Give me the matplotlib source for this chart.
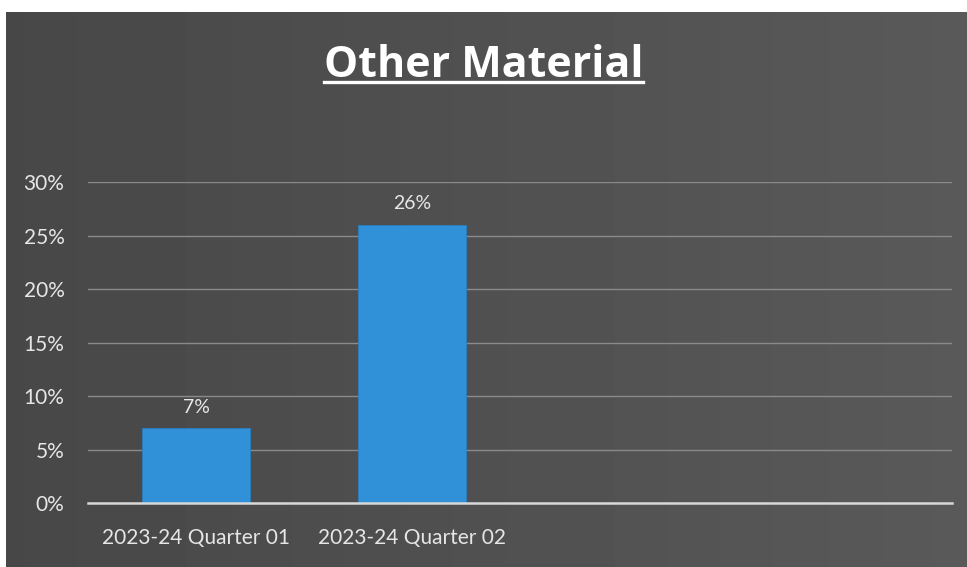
import numpy as np
import matplotlib
matplotlib.use("Agg")
import matplotlib.pyplot as plt
from matplotlib.ticker import PercentFormatter

# chart data
categories = ["2023-24 Quarter 01", "2023-24 Quarter 02", "", ""]
values = [0.07, 0.26, None, None]
bar_labels = ["7%", "26%"]
title = "Other Material"

fig = plt.figure(figsize=(9.67, 5.67), dpi=100)
fig.patch.set_facecolor("white")

# scanned dark panel behind the chart
bg = fig.add_axes([0.006, 0.0, 0.994, 0.978])
grad = np.linspace(0.28, 0.35, 256).reshape(1, -1)
bg.imshow(grad, cmap="gray", vmin=0, vmax=1, aspect="auto", extent=[0, 1, 0, 1])
bg.set_axis_off()

ax = fig.add_axes([0.091, 0.112, 0.893, 0.567])
ax.set_facecolor("none")
x = np.arange(len(categories))
shown = [i for i, v in enumerate(values) if v is not None]
bars = ax.bar([x[i] for i in shown], [values[i] for i in shown], width=0.5,
              color="#3090d8", edgecolor="#2a7fc0", linewidth=0.6, zorder=3)
for b, lab in zip(bars, bar_labels):
    ax.text(b.get_x() + b.get_width() / 2, b.get_height() + 0.012, lab,
            ha="center", va="bottom", color="#e8e8e8", fontsize=14, family="Lato")

ax.set_xlim(-0.5, len(categories) - 0.5)
ax.set_ylim(0, 0.30)
ax.set_yticks(np.arange(0, 0.31, 0.05))
ax.yaxis.set_major_formatter(PercentFormatter(1.0, decimals=0))
ax.set_xticks(x)
ax.set_xticklabels(categories)
ax.grid(axis="y", color="#8a8a8a", linewidth=1.0, zorder=0)
for s in ["top", "right", "left"]:
    ax.spines[s].set_visible(False)
ax.spines["bottom"].set_color("#d8d8d8")
ax.spines["bottom"].set_linewidth(1.8)
ax.spines["bottom"].set_zorder(4)
ax.tick_params(length=0, colors="#e0e0e0", labelsize=15)
ax.tick_params(axis="y", pad=17)
ax.tick_params(axis="x", pad=18)
for t in ax.get_xticklabels() + ax.get_yticklabels():
    t.set_family("Lato")
    t.set_color("#e6e6e6")

ttl = fig.text(0.5, 0.885, title, ha="center", va="center", color="white",
               fontsize=31, fontweight="bold", family="Open Sans")
fig.canvas.draw()
bb = ttl.get_window_extent().transformed(fig.transFigure.inverted())
fig.add_artist(plt.Line2D([bb.x0, bb.x1], [0.855, 0.855], color="white",
                          linewidth=2.4, transform=fig.transFigure))

fig.savefig("out.png", dpi=100)
